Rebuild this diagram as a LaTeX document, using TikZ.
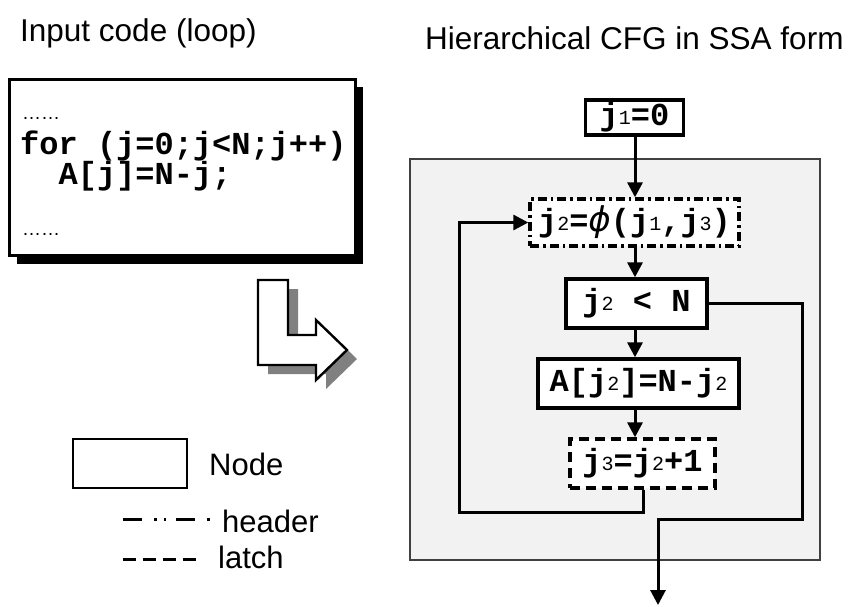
\documentclass[tikz,border=0pt]{standalone}
\usepackage{fontspec}
\setmainfont{Liberation Sans}
\setmonofont{Liberation Mono}
\newfontfamily\phifont{DejaVu Sans}
\usetikzlibrary{arrows.meta}

% small raised index digit used in SSA names
\newcommand{\idx}[1]{\raisebox{1.5pt}{\fontsize{20}{20}\selectfont\mdseries #1}}

\begin{document}
\begin{tikzpicture}[x=1pt,y=-1pt,
  title/.style={font=\fontsize{31.5}{32}\selectfont, anchor=base west, inner sep=0},
  codeline/.style={font=\ttfamily\bfseries\fontsize{32}{32}\selectfont, anchor=base west, inner sep=0},
  ellip/.style={font=\fontsize{19}{19}\selectfont, anchor=base west, inner sep=0},
  legtext/.style={font=\fontsize{31}{31}\selectfont, anchor=base west, inner sep=0},
  cfgnode/.style={draw, line width=3.4pt, fill=white, inner sep=0,
    font=\ttfamily\bfseries\fontsize{32}{32}\selectfont},
  headerline/.style={dash pattern=on 9pt off 4pt on 2.5pt off 4pt},
  legheader/.style={dash pattern=on 19pt off 12pt on 2.5pt off 7pt on 2.5pt off 10pt},
  latchline/.style={dash pattern=on 10pt off 6pt},
  leglatch/.style={dash pattern=on 13pt off 7pt},
  arr/.style={line width=3pt, -{Triangle[length=15pt,width=15pt]}},
  link/.style={line width=3pt}
]
\useasboundingbox (0,0) rectangle (849,606);

% titles
\node[title] (t1) at (20,41) {Input code (loop)};
\node[title] (t2) at (425,49) {Hierarchical CFG in SSA form};

% source code box with drop shadow
\fill[black] (17,87) rectangle (363,264);
\draw[line width=3pt, fill=white] (9,79) rectangle (355,255);
\node[ellip] (d1) at (22,119) {……};
\node[codeline] (c1) at (20,154) {for (j=0;j<N;j++)};
\node[codeline] (c2) at (20,184) {\ \ A[j]=N-j;};
\node[ellip] (d2) at (22,235) {……};

% bent block arrow with shadow
\fill[gray] (268,289) -- (298,289) -- (298,344) -- (326,344) -- (326,329) -- (357,359)
  -- (326,389) -- (326,374) -- (268,374) -- cycle;
\draw[line width=2.4pt, fill=white, line join=miter] (258,280) -- (288,280) -- (288,335)
  -- (316,335) -- (316,320) -- (347,350) -- (316,380) -- (316,365) -- (258,365) -- cycle;

% loop region
\draw[line width=1.5pt, draw=black!75, fill=black!5] (410,159) rectangle (820,560);

% CFG nodes
\node[cfgnode, minimum width=98pt, minimum height=35pt] (j1) at (634.5,117.5)
  {j\idx{1}=0};
\node[cfgnode, headerline, minimum width=209pt, minimum height=47pt] (phi) at (634.5,222.5)
  {j\idx{2}={\phifont\mdseries\itshape\fontsize{34}{34}\selectfont ϕ}(j\idx{1},j\idx{3})};
\node[cfgnode, minimum width=141pt, minimum height=49pt] (cond) at (636.5,303.5)
  {j\idx{2} < N};
\node[cfgnode, minimum width=201pt, minimum height=49pt] (body) at (638.5,383.5)
  {A[j\idx{2}]=N-j\idx{2}};
\node[cfgnode, latchline, minimum width=145pt, minimum height=49pt] (latch) at (642.5,463.5)
  {j\idx{3}=j\idx{2}+1};

% control-flow edges
\coordinate (spine) at (635,0);
\coordinate (back) at (459,512);
\coordinate (exitr) at (802,519);
\coordinate (out) at (658,605);
\draw[arr] (spine |- j1.south) -- (spine |- phi.north);
\draw[arr] (spine |- phi.south) -- (spine |- cond.north);
\draw[arr] (spine |- cond.south) -- (spine |- body.north);
\draw[arr] (spine |- body.south) -- (spine |- latch.north);
\draw[arr] (latch.south -| 643,0) -- (643,512) -- (back) -- (back |- phi.west) -- (phi.west);
\draw[arr] (cond.east) -- (cond.east -| exitr) -- (exitr) -- (exitr -| out) -- (out);

% legend
\node[draw, line width=2.4pt, minimum width=114pt, minimum height=49pt, inner sep=0]
  (lnode) at (130,463.5) {};
\node[legtext] (ln) at (209,475) {Node};
\coordinate (h0) at (123,519);
\coordinate (h1) at (212,519);
\coordinate (l0) at (123,559);
\coordinate (l1) at (196,559);
\draw[link, legheader] (h0) -- (h1);
\draw[link, leglatch] (l0) -- (l1);
\node[legtext] (lh) at (222,532) {header};
\node[legtext] (ll) at (218,568) {latch};
\end{tikzpicture}
\end{document}
